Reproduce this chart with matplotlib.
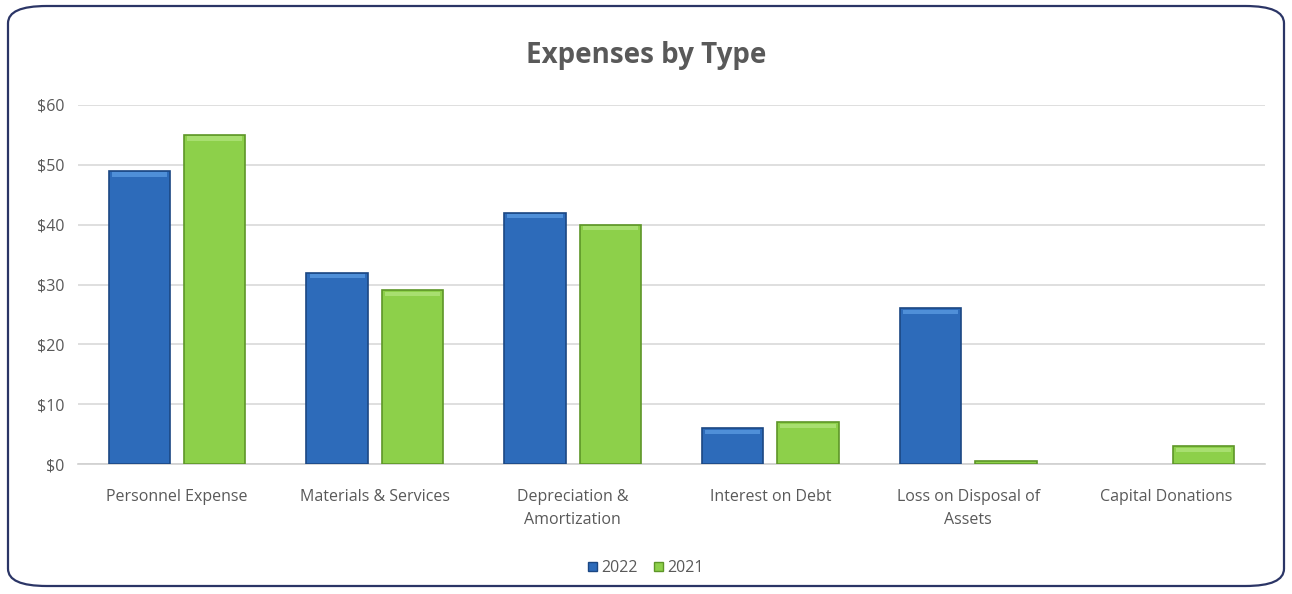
import matplotlib
matplotlib.use("Agg")
import matplotlib.pyplot as plt
from matplotlib.patches import FancyBboxPatch, Patch
import numpy as np

# 数据
categories = ["Personnel Expense", "Materials & Services", "Depreciation &\nAmortization",
              "Interest on Debt", "Loss on Disposal of\nAssets", "Capital Donations"]
values_2022 = [49, 32, 42, 6, 26, 0]
values_2021 = [55, 29, 40, 7, 0.5, 3]
yticks = [0, 10, 20, 30, 40, 50, 60]

plt.rcParams['font.family'] = ['Open Sans', 'DejaVu Sans']

fig = plt.figure(figsize=(12.92, 5.94), dpi=100)
fig.patch.set_facecolor("white")

# 圆角外框
border = FancyBboxPatch((8/1292, 8/594), 1276/1292, 580/594,
                        boxstyle="round,pad=0,rounding_size=0.03",
                        transform=fig.transFigure, facecolor="none",
                        edgecolor="#2B3566", linewidth=1.6, mutation_aspect=594/1292*2.1,
                        zorder=10)
fig.patches.append(border)

ax = fig.add_axes([78/1292, 1-464/594, (1265-78)/1292, (464-105)/594])
ax.set_facecolor("none")

x = np.arange(len(categories))
w = 0.31
gap = 0.035
lw1 = [1.2 if v > 0 else 0 for v in values_2022]
lw2 = [1.2 if v > 0 else 0 for v in values_2021]
b1 = ax.bar(x - w/2 - gap, values_2022, w, color="#2D6BBA", edgecolor="#1B4783", linewidth=lw1, label="2022", zorder=3)
b2 = ax.bar(x + w/2 + gap, values_2021, w, color="#8DD04A", edgecolor="#5E9628", linewidth=lw2, label="2021", zorder=3)

# 顶部高光（斜面效果）
for bars, hl in ((b1, "#4F8FD8"), (b2, "#A8DF70")):
    for r in bars:
        h = r.get_height()
        if h > 0.8:
            ax.bar(r.get_x() + r.get_width()/2, 0.7, r.get_width()*0.9,
                   bottom=h - 0.95, color=hl, linewidth=0, zorder=4)

ax.set_xlim(-0.5, len(categories) - 0.5)
ax.set_ylim(0, 60)
ax.set_yticks(yticks)
ax.set_yticklabels(["$%d" % v for v in yticks], color="#595959", fontsize=11.5)
ax.set_xticks(x)
ax.set_xticklabels(categories, color="#595959", fontsize=11.5, linespacing=1.55)
ax.tick_params(axis="y", length=0, pad=10)
ax.tick_params(axis="x", length=0, pad=18)
ax.yaxis.grid(True, color="#D9D9D9", linewidth=1.2, zorder=0)
ax.set_axisbelow(True)
for s in ["top", "right", "left"]:
    ax.spines[s].set_visible(False)
ax.spines["bottom"].set_color("#D0D0D0")
ax.spines["bottom"].set_linewidth(1.2)

fig.text(0.5, 1-55/594, "Expenses by Type", ha="center", va="center",
         fontsize=20, fontweight="bold", color="#595959")

handles = [Patch(facecolor="#2D6BBA", edgecolor="#1B4783"),
           Patch(facecolor="#8DD04A", edgecolor="#5E9628")]
leg = fig.legend(handles, ["2022", "2021"], loc="center", bbox_to_anchor=(0.5, 1-568/594),
                 ncol=2, frameon=False, fontsize=11.5, handlelength=0.55, handleheight=0.55,
                 handletextpad=0.3, columnspacing=1.0)
for t in leg.get_texts():
    t.set_color("#595959")

fig.savefig("out.png", dpi=100)
